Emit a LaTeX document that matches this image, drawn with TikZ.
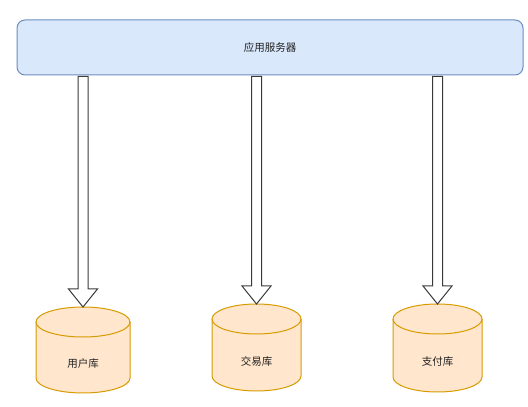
\documentclass[tikz,border=0pt]{standalone}
\usepackage{fontspec}
\newfontfamily\cjk{Noto Sans CJK SC}
\usetikzlibrary{calc}
\definecolor{appfill}{HTML}{DAE8FC}
\definecolor{appline}{HTML}{6C8EBF}
\definecolor{dbfillc}{HTML}{FFE6CC}
\definecolor{dbline}{HTML}{D79B00}
\definecolor{arrline}{HTML}{3A3A3A}
\definecolor{txt}{HTML}{222222}
\tikzset{
  appbox/.style={draw=appline, fill=appfill, line width=1pt, rounded corners=8pt,
    minimum width=506pt, minimum height=55pt, inner sep=0pt,
    font=\cjk\fontsize{10.5}{12}\selectfont, text=txt},
  dbshape/.style={draw=dbline, fill=dbfillc, line width=1pt},
  dbtext/.style={inner sep=0pt, font=\cjk\fontsize{10.5}{12}\selectfont, text=txt},
  hollowarrow/.style={draw=arrline, fill=white, line width=1pt, line join=miter},
}
% name, cx, top, bottom, width, text
\newcommand\mydbcyl[6]{%
  \coordinate (#1-top) at (#2,#3);
  \path[dbshape] (#2-#5/2,#3-15) -- (#2-#5/2,#4+15)
     arc[start angle=180,end angle=360,x radius=#5/2,y radius=15]
     -- (#2+#5/2,#3-15)
     arc[start angle=0,end angle=180,x radius=#5/2,y radius=15] -- cycle;
  \draw[dbshape, fill=none] (#2-#5/2,#3-15)
     arc[start angle=180,end angle=360,x radius=#5/2,y radius=15];
  \node[dbtext] (#1) at (#2,{(#3-30+#4)/2+1.5}) {#6};
}
% start coordinate, tip coordinate
\newcommand\myhollowarrow[2]{%
  \draw[hollowarrow] ($(#1)+(-5,0)$) -- ($(#2)+(-5,18)$) -- ($(#2)+(-14.5,18)$)
    -- (#2) -- ($(#2)+(14.5,18)$) -- ($(#2)+(5,18)$) -- ($(#1)+(5,0)$) -- cycle;
}
\begin{document}
\begin{tikzpicture}[x=1pt,y=1pt]
\useasboundingbox (0,0) rectangle (528,407);
\node[appbox] (app) at (270,359.5) {应用服务器};
\mydbcyl{db1}{83}{100}{14}{94}{用户库}
\mydbcyl{db2}{256.5}{103}{16}{89}{交易库}
\mydbcyl{db3}{437.5}{103}{15}{89}{支付库}
\coordinate (s1) at ($(app.south -| db1-top)+(0,-1)$);
\coordinate (s2) at ($(app.south -| db2-top)+(0,-1)$);
\coordinate (s3) at ($(app.south -| db3-top)+(0,-1)$);
\myhollowarrow{s1}{db1-top}
\myhollowarrow{s2}{db2-top}
\myhollowarrow{s3}{db3-top}
\end{tikzpicture}
\end{document}
